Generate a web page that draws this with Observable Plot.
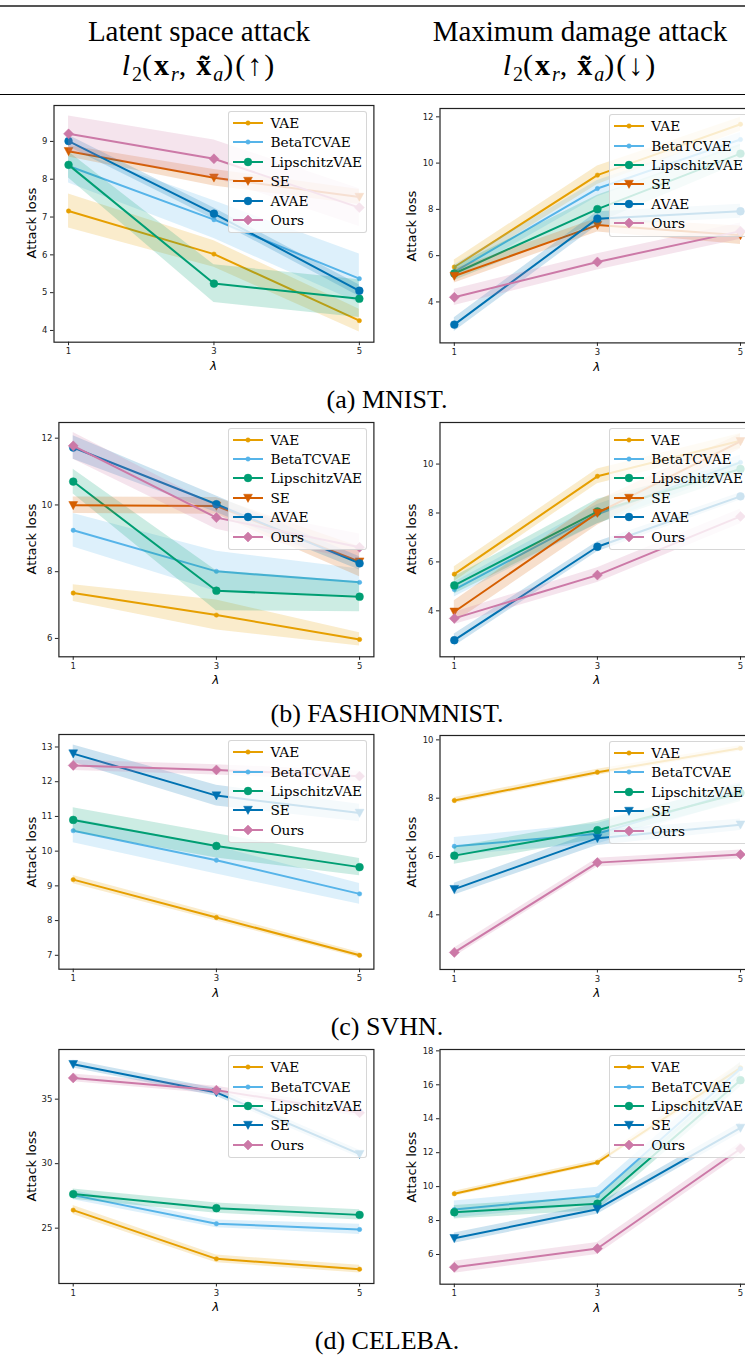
<!DOCTYPE html>
<html><head><meta charset="utf-8">
<script src="https://cdn.jsdelivr.net/npm/d3@7"></script>
<script src="https://cdn.jsdelivr.net/npm/@observablehq/plot@0.6"></script>
<style>
body{margin:0;background:#fff;}
#page{position:relative;width:745px;height:1362px;overflow:hidden;background:#fff;}
.abs{position:absolute;}
.serif{font-family:"Liberation Serif","Times New Roman",serif;color:#000;white-space:nowrap;}
.hdr{font-size:29px;text-align:center;width:400px;line-height:34px;}
.math{font-size:30px;letter-spacing:2px;}
.cap{font-size:26px;text-align:center;width:400px;line-height:30px;}
.ylab{font-family:"DejaVu Sans",sans-serif;font-size:13px;white-space:nowrap;line-height:16px;width:120px;text-align:center;transform:rotate(-90deg);}
.xlab{font-family:"DejaVu Sans",sans-serif;font-style:italic;font-size:12px;width:20px;text-align:center;line-height:14px;}
.leg{background:rgba(255,255,255,0.8);border:1px solid rgba(204,204,204,0.8);border-radius:3px;box-sizing:border-box;}
.legtxt{font-family:"DejaVu Serif",serif;font-size:13.7px;line-height:16px;white-space:nowrap;color:#000;}
.rule{left:0;width:745px;}
svg{overflow:visible;}
</style></head><body><div id="page"></div>
<script>
// ---------------- data ----------------
const lambdas = [1, 3, 5];
const methods6 = ["VAE", "BetaTCVAE", "LipschitzVAE", "SE", "AVAE", "Ours"];
const methods5 = ["VAE", "BetaTCVAE", "LipschitzVAE", "SE", "Ours"];

// rows follow the method order; columns follow lambdas
const mnistLatentMean = [[7.16,6.02,4.26],[8.35,6.93,5.37],[8.38,5.24,4.84],[8.74,8.04,7.53],[9.01,7.09,5.05],[9.20,8.54,7.25]];
const mnistLatentErr  = [[0.45,0.35,0.30],[0.45,0.50,0.65],[0.35,0.50,0.50],[0.15,0.22,0.20],[0.15,0.15,0.15],[0.47,0.50,0.50]];
const mnistDamageMean = [[5.51,9.48,11.68],[5.30,8.90,11.02],[5.23,8.01,10.41],[5.12,7.32,6.88],[3.02,7.60,7.92],[4.20,5.73,7.06]];
const mnistDamageErr  = [[0.30,0.40,0.30],[0.30,0.35,0.30],[0.30,0.60,0.40],[0.30,0.30,0.40],[0.30,0.30,0.30],[0.35,0.35,0.35]];

const fashionLatentMean = [[7.36,6.70,5.97],[9.24,8.01,7.68],[10.70,7.43,7.25],[9.99,9.97,8.30],[11.72,10.02,8.25],[11.77,9.62,8.73]];
const fashionLatentErr  = [[0.25,0.45,0.20],[0.50,0.60,0.40],[0.37,0.60,0.45],[0.25,0.25,0.45],[0.35,0.25,0.20],[0.40,0.35,0.40]];
const fashionDamageMean = [[5.50,9.50,10.95],[4.87,7.95,10.07],[5.04,8.06,9.80],[3.96,8.00,10.93],[2.80,6.62,8.68],[3.69,5.46,7.86]];
const fashionDamageErr  = [[0.30,0.30,0.30],[0.30,0.40,0.30],[0.35,0.50,0.30],[0.45,0.50,0.30],[0.25,0.20,0.15],[0.25,0.30,0.30]];

const svhnLatentMean = [[9.18,8.09,7.00],[10.59,9.74,8.77],[10.90,10.15,9.54],[12.81,11.60,11.10],[12.47,12.34,12.16]];
const svhnLatentErr  = [[0.12,0.10,0.08],[0.35,0.40,0.30],[0.35,0.35,0.25],[0.25,0.30,0.25],[0.15,0.15,0.15]];
const svhnDamageMean = [[7.92,8.89,9.71],[6.35,6.78,8.25],[6.03,6.90,8.18],[4.88,6.63,7.09],[2.71,5.79,6.07]];
const svhnDamageErr  = [[0.10,0.10,0.10],[0.30,0.35,0.30],[0.30,0.30,0.30],[0.20,0.25,0.20],[0.15,0.15,0.15]];

const celebaLatentMean = [[26.40,22.62,21.82],[27.56,25.34,24.90],[27.64,26.55,26.03],[37.71,35.52,30.74],[36.65,35.70,33.94]];
const celebaLatentErr  = [[0.35,0.30,0.30],[0.35,0.30,0.40],[0.40,0.40,0.40],[0.30,0.30,0.30],[0.30,0.30,0.30]];
const celebaDamageMean = [[9.58,11.42,17.00],[8.65,9.46,16.95],[8.49,8.99,16.27],[6.96,8.67,13.46],[5.25,6.35,12.23]];
const celebaDamageErr  = [[0.15,0.15,0.30],[0.50,0.50,0.40],[0.40,0.40,0.40],[0.30,0.30,0.30],[0.35,0.35,0.35]];

// tick labels
const xTicks = [1, 3, 5];
const mnistLatentTicks = [4,5,6,7,8,9];
const mnistDamageTicks = [4,6,8,10,12];
const fashionLatentTicks = [6,8,10,12];
const fashionDamageTicks = [4,6,8,10];
const svhnLatentTicks = [7,8,9,10,11,12,13];
const svhnDamageTicks = [4,6,8,10];
const celebaLatentTicks = [25,30,35];
const celebaDamageTicks = [6,8,10,12,14,16,18];

const headerLeft = "Latent space attack";
const headerRight = "Maximum damage attack";
const captions = ["(a) MNIST.", "(b) FASHIONMNIST.", "(c) SVHN.", "(d) CELEBA."];
const yLabel = "Attack loss";
const xLabel = "λ";

// ---------------- styles ----------------
const styleOf = {
  VAE: {color:"#E69F00", sym:"point"},
  BetaTCVAE: {color:"#56B4E9", sym:"point"},
  LipschitzVAE: {color:"#009E73", sym:"circle"},
  AVAE: {color:"#0072B2", sym:"circle"},
  Ours: {color:"#CC79A7", sym:"diamond"}
};
const seStyle6 = {color:"#D55E00", sym:"tri"};
const seStyle5 = {color:"#0072B2", sym:"tri"};

const symTri = {draw(ctx, size){const r=Math.sqrt(size/Math.PI); ctx.moveTo(-r,-r*0.85); ctx.lineTo(r,-r*0.85); ctx.lineTo(0,r); ctx.closePath();}};
const symDia = {draw(ctx, size){const r=Math.sqrt(size/Math.PI); ctx.moveTo(0,-r); ctx.lineTo(r,0); ctx.lineTo(0,r); ctx.lineTo(-r,0); ctx.closePath();}};
const symDefs = {
  point: {symbol:"circle", r:2.2},
  circle: {symbol:"circle", r:3.9},
  tri: {symbol:symTri, r:4.4},
  diamond: {symbol:symDia, r:5}
};

const page = document.getElementById("page");
function addDiv(cls, left, top, html, extra){
  const d = document.createElement("div");
  d.className = "abs " + cls;
  d.style.left = left + "px"; d.style.top = top + "px";
  if (extra) Object.assign(d.style, extra);
  d.innerHTML = html;
  page.appendChild(d);
  return d;
}

// header
addDiv("rule", 0, 5, "", {height:"1.5px", background:"#555"});
addDiv("rule", 0, 94, "", {height:"1px", background:"#000"});
addDiv("serif hdr", 199-200, 14, headerLeft);
addDiv("serif hdr", 580-200, 14, headerRight);
const sub = t => `<span style="font-size:20px;vertical-align:-6px;letter-spacing:0">${t}</span>`;
const mathL = `<i>l</i>${sub("2")}(<b>x</b>${sub("<i>r</i>")},&#8201;<b>x&#771;</b>${sub("<i>a</i>")})`;
addDiv("serif hdr math", 199-200, 48, mathL + "(↑)");
addDiv("serif hdr math", 580-200, 48, mathL + "(↓)");

// panels: position / frame geometry
const panels = [
  {mean:mnistLatentMean, err:mnistLatentErr, names:methods6, ticks:mnistLatentTicks, side:"L", f:{l:53.5,r:373.4,t:105,b:341.7}, yd:[3.69,9.95]},
  {mean:mnistDamageMean, err:mnistDamageErr, names:methods6, ticks:mnistDamageTicks, side:"R", f:{l:439.5,r:754.3,t:108.3,b:342.7}, yd:[2.23,12.36]},
  {mean:fashionLatentMean, err:fashionLatentErr, names:methods6, ticks:fashionLatentTicks, side:"L", f:{l:58.4,r:373.4,t:421.7,b:656}, yd:[5.45,12.47]},
  {mean:fashionDamageMean, err:fashionDamageErr, names:methods6, ticks:fashionDamageTicks, side:"R", f:{l:439.5,r:754.3,t:421.7,b:656}, yd:[2.12,11.70]},
  {mean:svhnLatentMean, err:svhnLatentErr, names:methods5, ticks:svhnLatentTicks, side:"L", f:{l:58.4,r:373.4,t:734.3,b:969}, yd:[6.60,13.36]},
  {mean:svhnDamageMean, err:svhnDamageErr, names:methods5, ticks:svhnDamageTicks, side:"R", f:{l:439.5,r:754.3,t:735,b:969}, yd:[2.125,10.15]},
  {mean:celebaLatentMean, err:celebaLatentErr, names:methods5, ticks:celebaLatentTicks, side:"L", f:{l:58.4,r:373.4,t:1049.3,b:1283.3}, yd:[20.71,38.85]},
  {mean:celebaDamageMean, err:celebaDamageErr, names:methods5, ticks:celebaDamageTicks, side:"R", f:{l:439.5,r:754.3,t:1049.3,b:1284}, yd:[4.25,18.08]}
];

function styleFor(name, n){
  if (name === "SE") return n === 6 ? seStyle6 : seStyle5;
  return styleOf[name];
}

panels.forEach((p, k) => {
  const svgLeft = p.side === "L" ? 0 : 376;
  const svgW = p.side === "L" ? 376 : 381.3;
  const mt = 10, mb = 22;
  const svgTop = p.f.t - mt;
  const H = p.f.b - p.f.t + mt + mb;
  const marks = [];
  p.names.forEach((name, i) => {
    const st = styleFor(name, p.names.length);
    const sd = symDefs[st.sym];
    const rows = lambdas.map((l, j) => ({lambda:l, mean:p.mean[i][j], err:p.err[i][j]}));
    marks.push(Plot.areaY(rows, {x:"lambda", y1:d=>d.mean-d.err, y2:d=>d.mean+d.err, fill:st.color, fillOpacity:0.2}));
    marks.push(Plot.line(rows, {x:"lambda", y:"mean", stroke:st.color, strokeWidth:2, strokeLinejoin:"round"}));
    marks.push(Plot.dot(rows, {x:"lambda", y:"mean", fill:st.color, stroke:st.color, strokeWidth:0.5, symbol:sd.symbol, r:sd.r}));
  });
  marks.push(Plot.axisX({ticks:xTicks, tickSize:3.5, tickPadding:2.5, tickFormat:d=>String(d), label:null, fontSize:8.5, stroke:"#222"}));
  marks.push(Plot.axisY({ticks:p.ticks, tickSize:3.5, tickPadding:3, tickFormat:d=>String(d), label:null, fontSize:8.5}));
  marks.push(Plot.frame({stroke:"#222", strokeWidth:1.2}));
  const svg = Plot.plot({
    width: svgW, height: H,
    marginLeft: p.f.l - svgLeft, marginRight: svgLeft + svgW - p.f.r,
    marginTop: mt, marginBottom: mb,
    x: {domain:[0.8, 5.2]},
    y: {domain:p.yd},
    style: {fontFamily:"DejaVu Sans, sans-serif", background:"transparent", color:"#222", overflow:"visible", maxWidth:"none"},
    marks
  });
  svg.style.position = "absolute";
  svg.style.left = svgLeft + "px";
  svg.style.top = svgTop + "px";
  page.appendChild(svg);

  // axis labels
  const ycx = p.side === "L" ? 32 : 412;
  const ycy = (p.f.t + p.f.b) / 2;
  addDiv("ylab", ycx - 60, ycy - 8, yLabel);
  addDiv("xlab", (p.f.l + p.f.r)/2 - 10, p.f.b + 17, xLabel);

  // legend
  const n = p.names.length;
  const lw = 139, lh = n * 19.4 + 6;
  const ll = p.f.r - 6 - lw, lt = p.f.t + 6;
  const leg = addDiv("leg", ll, lt, "", {width:lw+"px", height:lh+"px"});
  p.names.forEach((name, i) => {
    const st = styleFor(name, n);
    const sd = symDefs[st.sym];
    const cy = 11 + i * 19.4;
    const path = d3.path();
    (sd.symbol === "circle" ? d3.symbolCircle : sd.symbol).draw(path, Math.PI * sd.r * sd.r);
    const row = document.createElement("div");
    row.className = "abs";
    row.style.left = "0px"; row.style.top = (cy - 8) + "px";
    row.innerHTML = `<svg width="36" height="16" style="position:absolute;left:3px;top:0"><line x1="1" y1="8" x2="31" y2="8" stroke="${st.color}" stroke-width="2"/><path transform="translate(16,8)" d="${path.toString()}" fill="${st.color}" stroke="${st.color}" stroke-width="0.5"/></svg><span class="legtxt" style="position:absolute;left:41px;top:0">${name}</span>`;
    leg.appendChild(row);
  });

  // caption
  if (p.side === "L") {
    addDiv("serif cap", 387 - 200, p.f.b + 58 - 15, captions[k/2]);
  }
});
</script>
</body></html>
